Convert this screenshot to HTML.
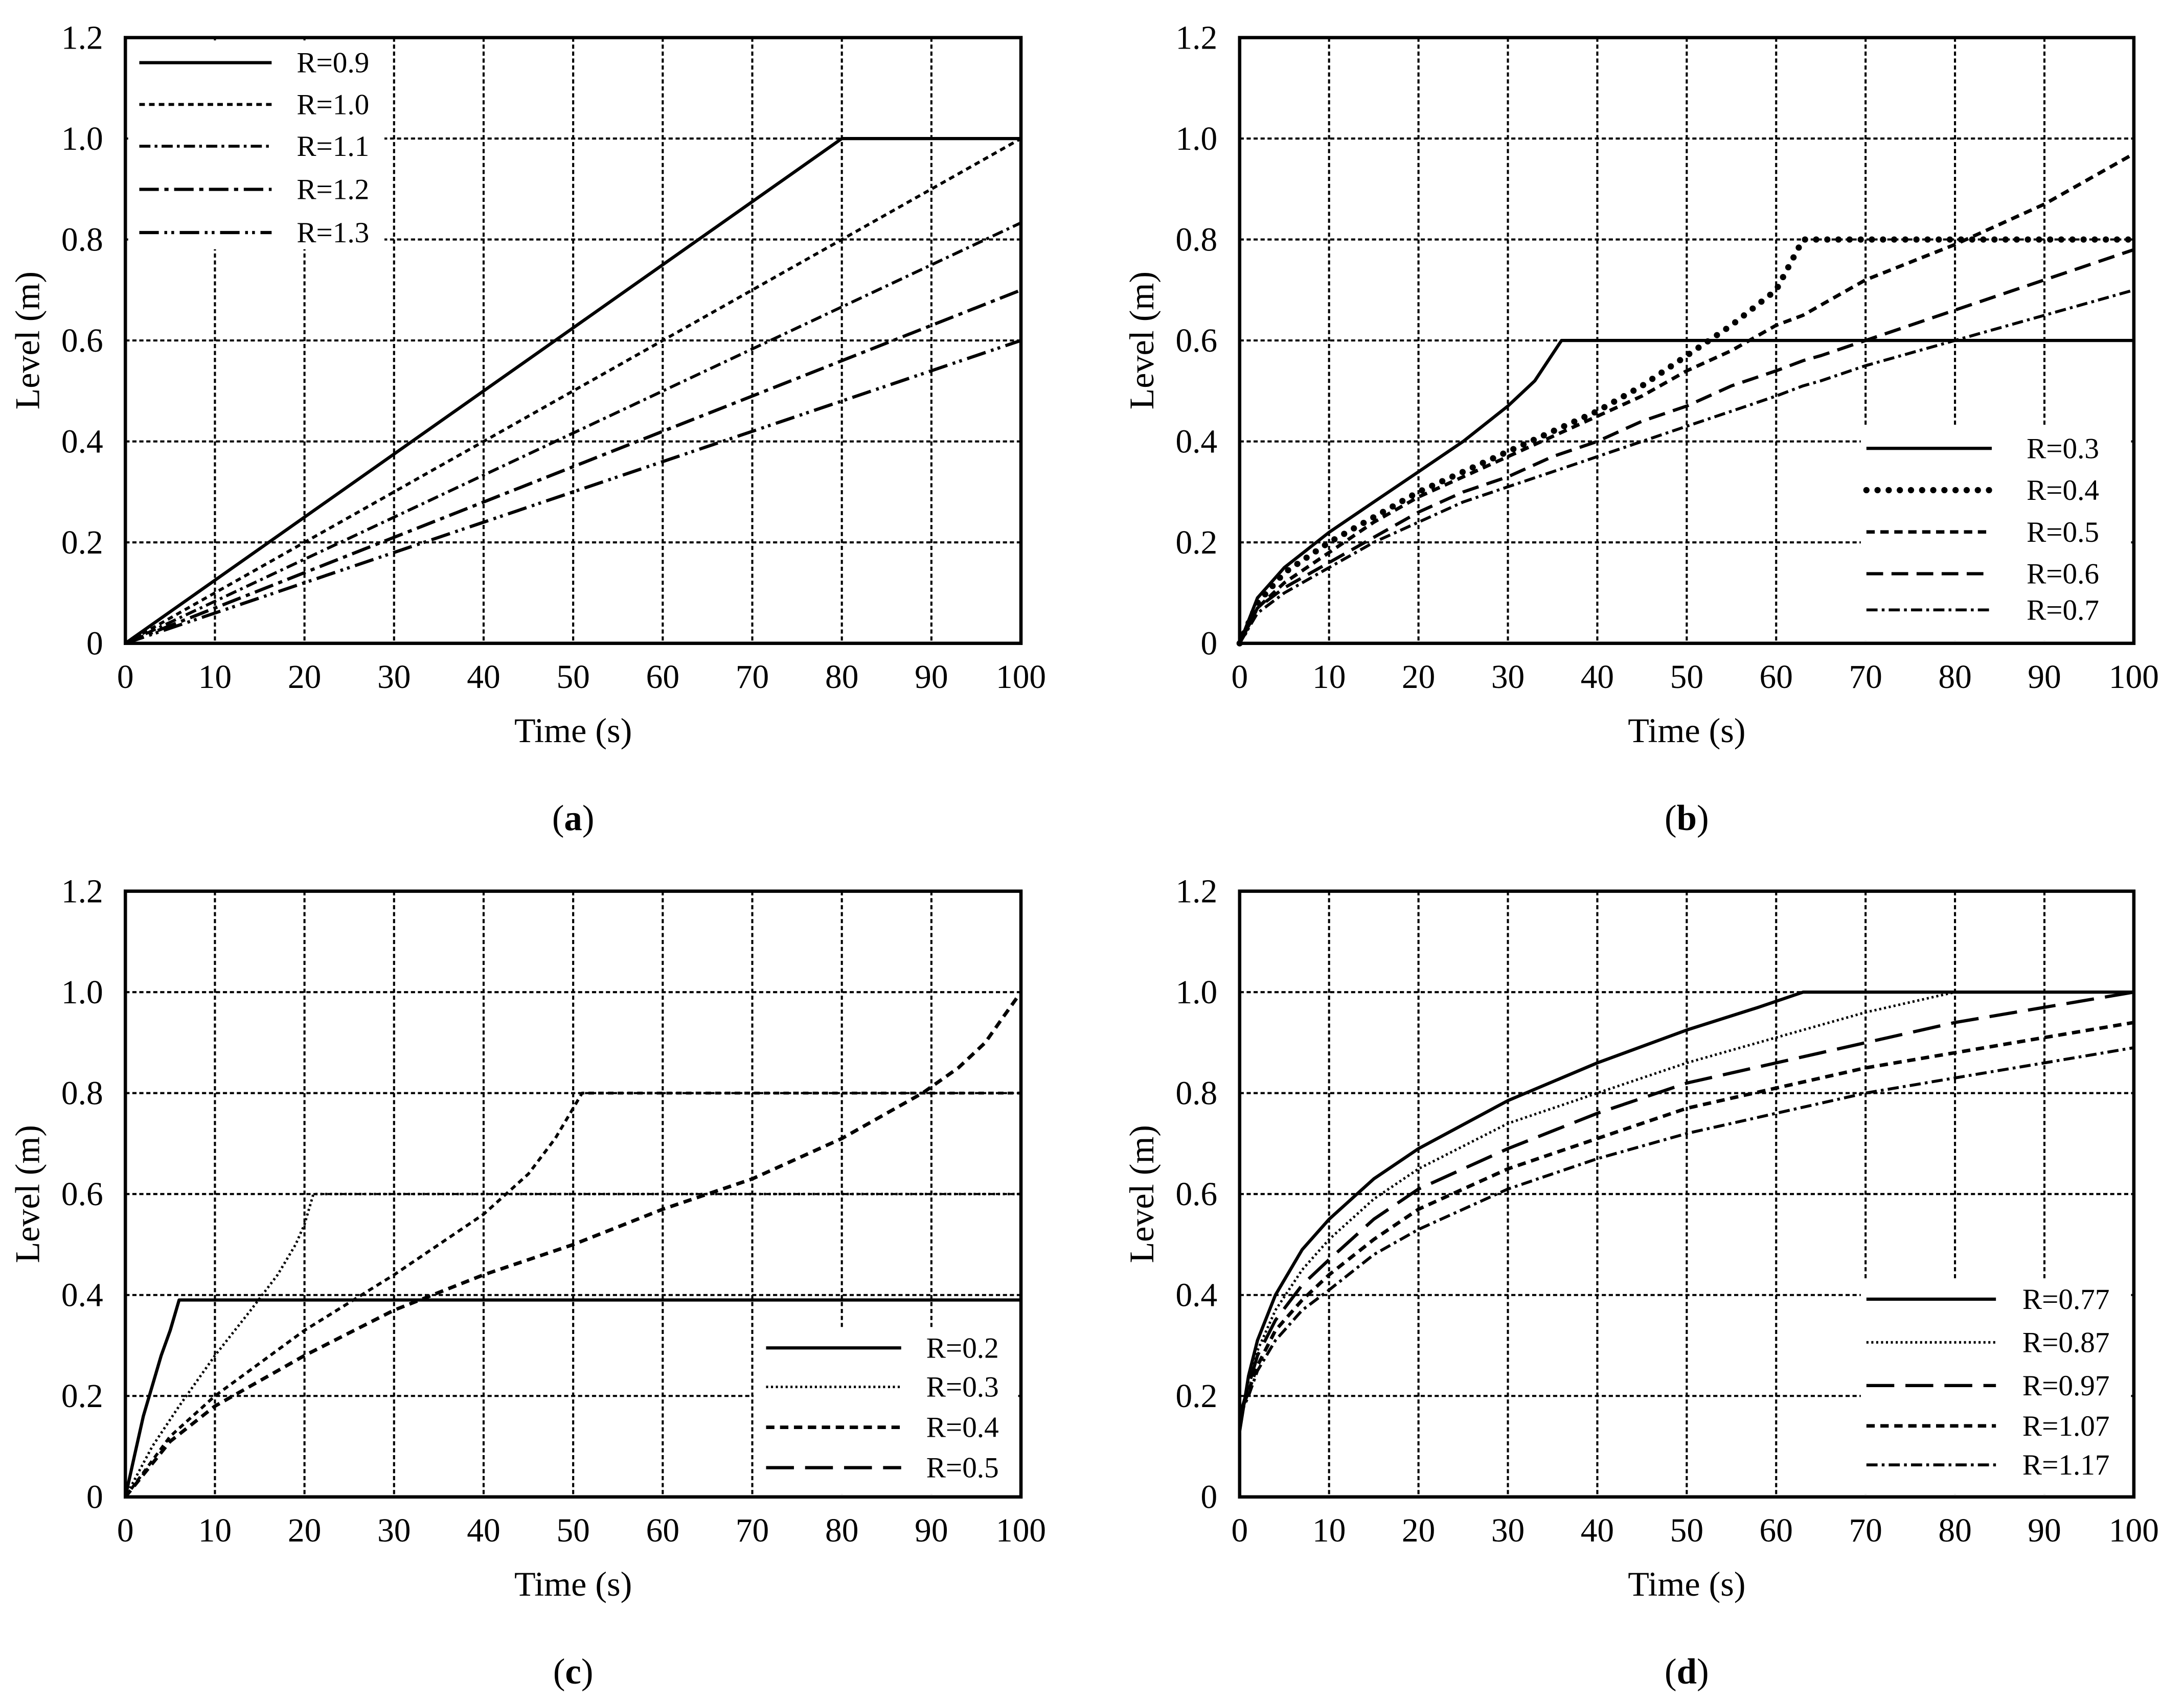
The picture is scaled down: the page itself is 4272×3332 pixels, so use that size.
<!DOCTYPE html>
<html><head><meta charset="utf-8"><style>
html,body{margin:0;padding:0;background:#fff}
svg{display:block}
text{font-family:"Liberation Serif",serif;fill:#000}
</style></head><body>
<svg id="fig" width="4272" height="3332" viewBox="0 0 1568 1223" xmlns="http://www.w3.org/2000/svg"></svg>
<script>
// ---- data ----
const xTicks=[0,10,20,30,40,50,60,70,80,90,100];
const yTicks=[0,0.2,0.4,0.6,0.8,1.0,1.2];
const yTickLabels=["0","0.2","0.4","0.6","0.8","1.0","1.2"];
// panel a
const aT=[0,80,100];
const aR09=[0,1.0,1.0];
const aT2=[0,100];
const aR10=[0,1.0];
const aR11=[0,0.833];
const aR12=[0,0.70];
const aR13=[0,0.60];
// panel b
const bT=[0,2,5,10,15,20,25,30,35,40,45,50,55,60,63,65,70,80,90,100];
const bR04=[0,0.08,0.14,0.20,0.25,0.30,0.34,0.38,0.42,0.46,0.51,0.57,0.63,0.70,0.80,0.80,0.80,0.80,0.80,0.80];
const bR05=[0,0.07,0.12,0.18,0.24,0.29,0.33,0.37,0.41,0.45,0.49,0.54,0.58,0.63,0.65,0.67,0.72,0.79,0.87,0.97];
const bR06=[0,0.07,0.11,0.16,0.21,0.26,0.30,0.33,0.37,0.40,0.44,0.47,0.51,0.54,0.56,0.57,0.60,0.66,0.72,0.78];
const bR07=[0,0.06,0.10,0.15,0.20,0.24,0.28,0.31,0.34,0.37,0.40,0.43,0.46,0.49,0.51,0.52,0.55,0.60,0.65,0.70];
const bR03T=[0,2,5,10,15,20,25,30,33,36,100];
const bR03V=[0,0.09,0.15,0.22,0.28,0.34,0.40,0.47,0.52,0.60,0.60];
// panel c
const cR02T=[0,1,2,3,4,5,5.5,6,100];
const cR02V=[0,0.08,0.16,0.22,0.28,0.33,0.36,0.39,0.39];
const cR03T=[0,3,6,10,14,17,19,20,21,100];
const cR03V=[0,0.10,0.18,0.28,0.37,0.44,0.50,0.54,0.60,0.60];
const cR04T=[0,5,10,20,30,40,45,48,50,51,100];
const cR04V=[0,0.12,0.20,0.33,0.44,0.56,0.64,0.71,0.77,0.80,0.80];
const cR05T=[0,5,10,20,30,40,50,60,70,80,89,93,96,98,100];
const cR05V=[0,0.11,0.18,0.28,0.37,0.44,0.50,0.57,0.63,0.71,0.80,0.85,0.90,0.95,1.0];
// panel d
const dT=[0,1,2,4,7,10,15,20,30,40,50,60,70,80,90,100];
const dR077T=[0,1,2,4,7,10,15,20,30,40,50,58,63,100];
const dR077V=[0.13,0.24,0.31,0.40,0.49,0.55,0.63,0.69,0.785,0.86,0.925,0.97,1.0,1.0];
const dR087T=[0,1,2,4,7,10,15,20,30,40,50,60,70,80,100];
const dR087V=[0.15,0.23,0.29,0.37,0.45,0.51,0.59,0.65,0.74,0.80,0.86,0.91,0.96,1.0,1.0];
const dR097=[0.16,0.22,0.28,0.35,0.42,0.47,0.55,0.61,0.69,0.76,0.82,0.86,0.90,0.94,0.97,1.0];
const dR107=[0.16,0.21,0.26,0.33,0.39,0.44,0.51,0.57,0.65,0.71,0.77,0.81,0.85,0.88,0.91,0.94];
const dR117=[0.16,0.20,0.25,0.31,0.37,0.41,0.48,0.53,0.61,0.67,0.72,0.76,0.80,0.83,0.86,0.89];

const NS="http://www.w3.org/2000/svg";
const svg=document.getElementById('fig');
function el(tag,attrs,parent){const e=document.createElementNS(NS,tag);for(const k in attrs)e.setAttribute(k,attrs[k]);(parent||svg).appendChild(e);return e;}

const panels=[
 {id:'a',x0:90,x1:733,y0:27,y1:462},
 {id:'b',x0:890,x1:1532,y0:27,y1:462},
 {id:'c',x0:90,x1:733,y0:640,y1:1075},
 {id:'d',x0:890,x1:1532,y0:640,y1:1075}];
const styles={
 solid:{dash:'none',w:2.3},
 fine:{dash:'4 3',w:2.1},
 dashdot:{dash:'8 3 2 3',w:2.1},
 longdashdot:{dash:'14 4 3 4',w:2.3},
 dashdotdot:{dash:'14 4 2 3 2 4',w:2.3},
 bigdots:{dash:'0 8',w:4.5,cap:'round'},
 dash:{dash:'6 4',w:2.5},
 longdash:{dash:'12 6',w:2.3},
 dotted:{dash:'1.5 2',w:1.8},
 longdash2:{dash:'20 8',w:2.3}};

function axes(p){
 const g=el('g',{});
 
 
 const sx=v=>p.x0+(p.x1-p.x0)*v/100, sy=v=>p.y1-(p.y1-p.y0)*v/1.2;
 p.sx=sx;p.sy=sy;p.g=g;
 const grid=el('g',{},g);
 
 
 xTicks.forEach(t=>{if(t>0&&t<100)el('line',{x1:sx(t),x2:sx(t),y1:p.y0,y2:p.y1,stroke:'#000','stroke-width':1.5,'stroke-dasharray':'3 2'},grid);});
 yTicks.forEach(t=>{if(t>0&&t<1.2)el('line',{x1:p.x0,x2:p.x1,y1:sy(t),y2:sy(t),stroke:'#000','stroke-width':1.5,'stroke-dasharray':'3 2'},grid);});
 const xl=el('g',{},g);
 
 
 xTicks.forEach(t=>{const tx=el('text',{x:sx(t),y:p.y1+32,'text-anchor':'middle','font-size':24},xl);tx.textContent=t;});
 const yl=el('g',{},g);
 
 
 yTicks.forEach((t,i)=>{const tx=el('text',{x:p.x0-16,y:sy(t)+8,'text-anchor':'end','font-size':24},yl);tx.textContent=yTickLabels[i];});
 const xt=el('text',{x:(p.x0+p.x1)/2,y:p.y1+71,'text-anchor':'middle','font-size':25},g);
 
 
 xt.textContent='Time (s)';
 const cy=(p.y0+p.y1)/2;
 const yt=el('text',{x:p.x0-62,y:cy,'text-anchor':'middle','font-size':25,transform:`rotate(-90 ${p.x0-62} ${cy})`},g);
 
 
 yt.textContent='Level (m)';
 const cap=el('text',{x:(p.x0+p.x1)/2,y:p.y1+134,'text-anchor':'middle','font-size':26},g);
 
 
 cap.innerHTML='(<tspan font-weight="bold">'+p.id+'</tspan>)';
}
function series(p,name,T,V,st){
 const s=styles[st];let pts=[];
 T.forEach((t,i)=>{if(V[i]!=null)pts.push(p.sx(t).toFixed(1)+','+p.sy(V[i]).toFixed(1));});
 const l=el('polyline',{points:pts.join(' '),fill:'none',stroke:'#000','stroke-width':s.w,'stroke-dasharray':s.dash,'stroke-linecap':s.cap||'butt','stroke-linejoin':'round'},p.g);
 
 
}
function legend(p,box,items){
 const g=el('g',{},p.g);
 
 
 el('rect',{x:box.x,y:box.y,width:box.w,height:box.h,fill:'#fff'},g);
 items.forEach((it,i)=>{
  const s=styles[it[1]];const y=box.ey[i];
  const e=el('g',{},g);
  
  
  el('line',{x1:box.lx0,x2:box.lx1,y1:y,y2:y,stroke:'#000','stroke-width':s.w,'stroke-dasharray':s.dash,'stroke-linecap':s.cap||'butt'},e);
  const t=el('text',{x:box.tx,y:y+7,'font-size':21},e);t.textContent=it[0];
 });
}
function frame(p){
 const r=el('rect',{x:p.x0,y:p.y0,width:p.x1-p.x0,height:p.y1-p.y0,fill:'none',stroke:'#000','stroke-width':2.4},p.g);
 
 
}
panels.forEach(axes);
const [A,B,C,D]=panels;
// a
legend(A,{x:92,y:29,w:184,h:150,lx0:100,lx1:195,tx:213,ey:[45,75,105,136,167]},[['R=0.9','solid'],['R=1.0','fine'],['R=1.1','dashdot'],['R=1.2','longdashdot'],['R=1.3','dashdotdot']]);
series(A,'line-r-0.9',aT,aR09,'solid');
series(A,'line-r-1.0',aT2,aR10,'fine');
series(A,'line-r-1.1',aT2,aR11,'dashdot');
series(A,'line-r-1.2',aT2,aR12,'longdashdot');
series(A,'line-r-1.3',aT2,aR13,'dashdotdot');
frame(A);
// b
legend(B,{x:1336,y:305,w:194,h:155,lx0:1340,lx1:1430,tx:1455,ey:[322,352,382,412,438]},[['R=0.3','solid'],['R=0.4','bigdots'],['R=0.5','dash'],['R=0.6','longdash'],['R=0.7','dashdot']]);
series(B,'line-r-0.3',bR03T,bR03V,'solid');
series(B,'line-r-0.4',bT,bR04,'bigdots');
series(B,'line-r-0.5',bT,bR05,'dash');
series(B,'line-r-0.6',bT,bR06,'longdash');
series(B,'line-r-0.7',bT,bR07,'dashdot');
frame(B);
// c
series(C,'line-r-0.2',cR02T,cR02V,'solid');
series(C,'line-r-0.3',cR03T,cR03V,'dotted');
series(C,'line-r-0.4',cR04T,cR04V,'fine');
series(C,'line-r-0.5',cR05T,cR05V,'dash');
legend(C,{x:541,y:953,w:190,h:120,lx0:550,lx1:647,tx:665,ey:[968,996,1025,1054]},[['R=0.2','solid'],['R=0.3','dotted'],['R=0.4','dash'],['R=0.5','longdash2']]);
frame(C);
// d
legend(D,{x:1336,y:918,w:194,h:155,lx0:1340,lx1:1433,tx:1452,ey:[933,964,995,1024,1052]},[['R=0.77','solid'],['R=0.87','dotted'],['R=0.97','longdash2'],['R=1.07','dash'],['R=1.17','dashdot']]);
series(D,'line-r-0.77',dR077T,dR077V,'solid');
series(D,'line-r-0.87',dR087T,dR087V,'dotted');
series(D,'line-r-0.97',dT,dR097,'longdash2');
series(D,'line-r-1.07',dT,dR107,'dash');
series(D,'line-r-1.17',dT,dR117,'dashdot');
frame(D);
</script>
</body></html>
